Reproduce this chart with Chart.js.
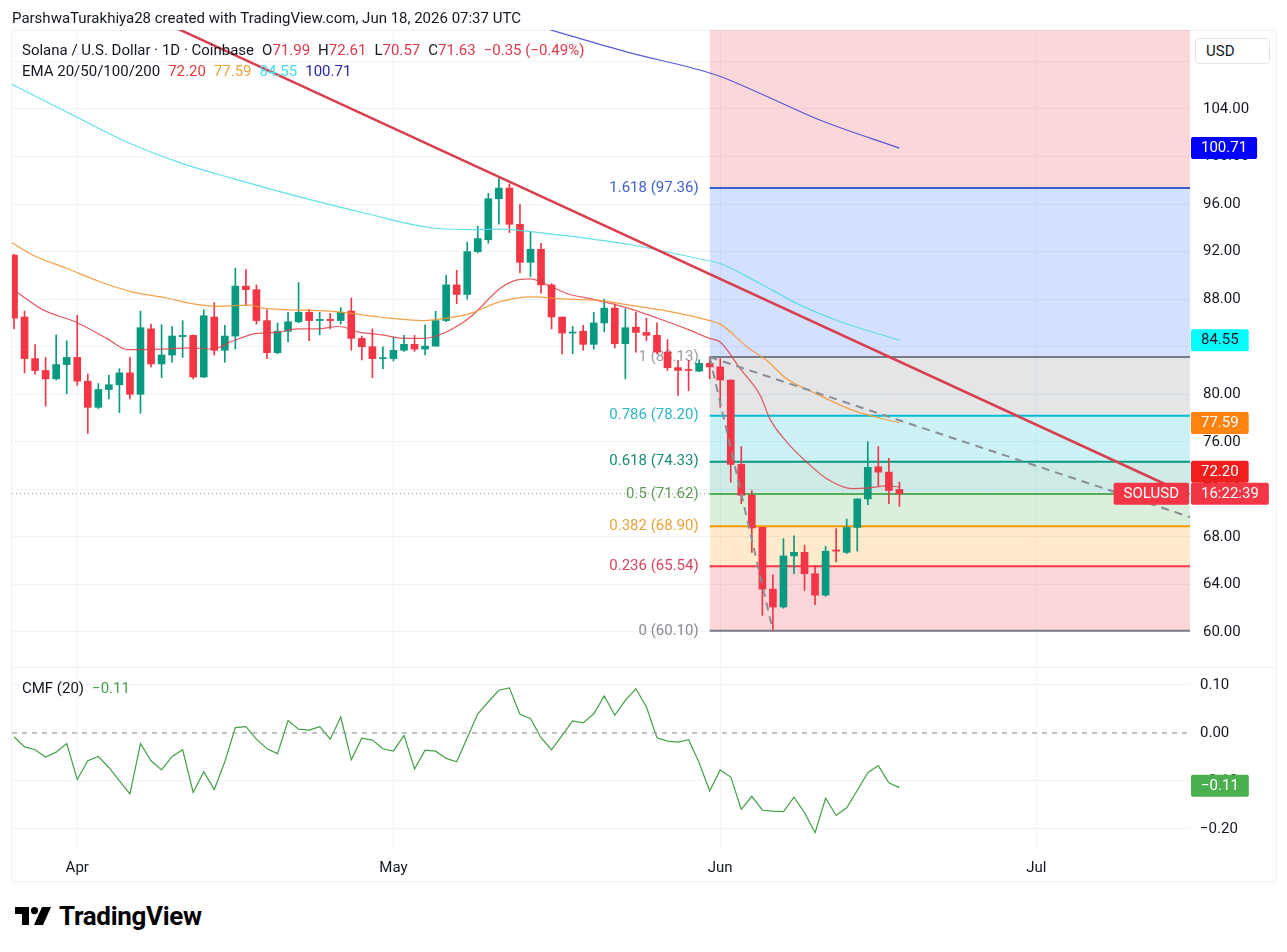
<!DOCTYPE html>
<html>
<head>
<meta charset="utf-8">
<title>Solana / U.S. Dollar 1D</title>
<script src="https://cdn.jsdelivr.net/npm/chart.js@4.4.1/dist/chart.umd.min.js"></script>
<style>
  html, body { margin: 0; padding: 0; background: #fff; }
  body { width: 1287px; height: 952px; position: relative; overflow: hidden;
         font-family: Roboto, "Liberation Sans", Arial, sans-serif; color: #131722; }
  canvas { position: absolute; left: 0; }
  #price { top: 0; }
  #cmf { top: 668px; }
  .frame { position: absolute; left: 11px; top: 30px; width: 1264px; height: 850px;
           border: 1px solid #eef0f3; border-radius: 4px; }
  .sep { position: absolute; left: 12px; top: 667px; width: 1263px; height: 1px; background: #eceef2; }
  .txt { position: absolute; white-space: nowrap; font-size: 15px; line-height: 18px; }
  #author { left: 12px; top: 8px; font-size: 15px; line-height: 20px; }
  #legend1 { left: 22px; top: 41px; }
  #legend2 { left: 22px; top: 62px; }
  #legend3 { left: 22px; top: 679px; }
  .g { margin-left: 8px; }
  .r { color: #e0394d; }
  .e20 { color: #e53935; }
  .e50 { color: #f2a23c; }
  .e100 { color: #3fe0ee; }
  .e200 { color: #2727b0; }
  .cm { color: #43a047; }
  #usd { position: absolute; left: 1195px; top: 38px; width: 75px; height: 26px; box-sizing: border-box;
         border: 1px solid #e0e3eb; border-radius: 4px; font-size: 15px; line-height: 24px;
         padding-left: 10px; background: #fff; }
  #logo { position: absolute; left: 15px; top: 901px; display: flex; align-items: center; gap: 8px;
          font-size: 26px; font-weight: 700; letter-spacing: -0.3px; color: #000; }
</style>
</head>
<body>
<div class="frame"></div>
<div class="sep"></div>
<canvas id="price" width="1287" height="670"></canvas>
<canvas id="cmf" width="1287" height="214"></canvas>

<div id="author" class="txt">ParshwaTurakhiya28 created with TradingView.com, Jun 18, 2026 07:37 UTC</div>
<div id="legend1" class="txt">Solana / U.S. Dollar · 1D · Coinbase<span class="g">O<span class="r">71.99</span></span><span class="g">H<span class="r">72.61</span></span><span class="g">L<span class="r">70.57</span></span><span class="g">C<span class="r">71.63</span></span><span class="g r">−0.35 (−0.49%)</span></div>
<div id="legend2" class="txt">EMA 20/50/100/200<span class="g e20">72.20</span><span class="g e50">77.59</span><span class="g e100">84.55</span><span class="g e200">100.71</span></div>
<div id="legend3" class="txt">CMF (20)<span class="g cm">−0.11</span></div>
<div id="usd">USD</div>
<div id="logo">
  <svg width="36" height="18" viewBox="0 0 36 18"><path d="M0 0h14v18h-7v-11h-7z" fill="#000"/><circle cx="19.5" cy="3.6" r="3.6" fill="#000"/><path d="M27 0h9l-8 18h-9z" fill="#000"/></svg>
  <span>TradingView</span>
</div>

<script>
const FONT = 'Roboto, "Liberation Sans", Arial, sans-serif';
const UP = '#089981';
const DOWN = '#f23645';
const GRID = '#f0f3fa';

// day index 0 = Mar 26, 2026 ... 84 = Jun 18, 2026
const opens = [91.7, 86.5, 83.0, 82.0, 81.3, 82.5, 83.1, 81.1, 78.9, 80.4,
  80.8, 81.8, 80.0, 85.5, 82.55, 83.3, 84.85, 84.95, 81.45, 86.5,
  83.7, 84.9, 89.1, 88.8, 86.2, 83.5, 85.3, 86.1, 86.9, 86.2,
  86.3, 86.2, 87.0, 84.7, 84.0, 83.0, 83.0, 83.7, 84.2, 83.8,
  84.05, 86.2, 89.2, 88.4, 92.0, 93.0, 96.45, 97.35, 94.3, 91.1,
  92.2, 89.2, 86.5, 85.15, 85.3, 84.2, 86.0, 87.25, 84.25, 85.65,
  85.2, 84.96, 83.55, 82.24, 82.05, 81.95, 82.6, 82.3, 81.2, 74.1,
  71.5, 68.8, 63.6, 62.1, 66.4, 66.7, 64.9, 63.1, 66.9, 66.7,
  68.8, 71.2, 73.9, 73.45, 71.99];
const highs = [91.8, 87.0, 84.17, 83.1, 85.0, 84.5, 86.65, 81.7, 80.9, 81.6,
  82.15, 83.1, 87.0, 85.9, 85.85, 85.7, 86.2, 85.0, 87.1, 87.7,
  85.8, 90.6, 90.5, 89.2, 87.1, 86.0, 86.9, 89.4, 87.15, 86.9,
  86.8, 87.3, 88.1, 84.9, 85.5, 84.0, 84.8, 84.96, 84.96, 85.85,
  86.98, 90.0, 90.43, 92.8, 94.13, 96.9, 98.3, 97.7, 95.95, 93.65,
  92.7, 89.3, 86.5, 85.7, 85.8, 86.9, 88.0, 87.6, 87.2, 86.9,
  86.4, 86.0, 84.6, 82.86, 82.86, 82.9, 83.13, 83.0, 81.2, 75.6,
  71.9, 68.8, 64.8, 67.85, 68.1, 67.3, 65.6, 67.2, 68.7, 69.5,
  71.2, 76.0, 75.6, 74.6, 72.61];
const lows = [85.5, 81.8, 81.7, 79.0, 81.2, 80.05, 80.75, 76.7, 78.8, 79.6,
  78.45, 79.6, 78.4, 82.3, 81.4, 82.7, 83.1, 81.3, 81.4, 83.3,
  82.7, 83.8, 87.5, 85.9, 83.0, 83.4, 84.4, 86.0, 84.5, 85.0,
  85.5, 85.9, 83.7, 82.9, 81.4, 82.15, 82.8, 83.6, 83.6, 83.3,
  84.05, 86.1, 87.62, 88.0, 91.9, 92.7, 94.3, 93.6, 90.2, 89.9,
  88.5, 85.5, 83.4, 83.4, 83.7, 83.8, 85.25, 83.9, 81.3, 83.55,
  84.5, 83.4, 82.0, 79.9, 80.3, 81.9, 81.3, 78.9, 72.6, 70.8,
  66.7, 61.4, 60.1, 62.0, 64.9, 63.5, 62.3, 63.0, 65.9, 66.6,
  66.8, 70.7, 72.3, 70.8, 70.57];
const closes = [86.4, 83.0, 82.0, 81.3, 82.5, 83.1, 81.1, 78.9, 80.4, 80.8,
  81.8, 80.0, 85.6, 82.55, 83.3, 84.9, 84.95, 81.45, 86.6, 83.7,
  84.9, 89.1, 88.8, 86.2, 83.5, 85.3, 86.1, 86.9, 86.2, 86.3,
  86.2, 86.9, 84.7, 84.0, 83.0, 83.05, 83.7, 84.2, 83.8, 84.05,
  86.2, 89.2, 88.4, 92.0, 93.1, 96.45, 97.35, 94.3, 91.1, 92.2,
  89.2, 86.5, 85.15, 85.2, 84.2, 86.0, 87.25, 84.25, 85.6, 85.2,
  84.96, 83.55, 82.24, 82.0, 82.0, 82.6, 82.3, 81.2, 74.1, 71.5,
  68.75, 63.6, 62.1, 66.4, 66.7, 64.9, 63.1, 66.8, 66.8, 68.8,
  71.2, 73.85, 73.45, 71.9, 71.63];

const cmf = [-0.008, -0.029, -0.035, -0.05, -0.04, -0.022, -0.097, -0.058, -0.049, -0.072,
  -0.1, -0.127, -0.022, -0.058, -0.077, -0.049, -0.035, -0.124, -0.081, -0.118,
  -0.06, 0.011, 0.013, -0.013, -0.033, -0.043, 0.026, 0.008, 0.006, 0.013,
  -0.013, 0.033, -0.056, -0.011, -0.015, -0.033, -0.038, -0.005, -0.075, -0.036,
  -0.038, -0.053, -0.06, -0.01, 0.04, 0.065, 0.089, 0.094, 0.039, 0.03,
  -0.01, -0.035, -0.005, 0.025, 0.021, 0.04, 0.077, 0.037, 0.068, 0.092,
  0.054, -0.01, -0.017, -0.019, -0.014, -0.062, -0.121, -0.077, -0.092, -0.159,
  -0.132, -0.161, -0.163, -0.164, -0.134, -0.166, -0.208, -0.136, -0.172, -0.156,
  -0.12, -0.083, -0.068, -0.104, -0.114];

// EMA curves as [day, price]
const ema20 = [[-0.2, 88.9], [2.75, 87.1], [5.8, 86.1], [8.8, 84.7], [10.8, 83.75], [13.85, 83.8],
  [16.9, 83.9], [18.8, 83.8], [20.8, 84.5], [22.9, 85.1], [24.9, 85.2], [26.85, 85.5], [28.8, 85.5],
  [30.8, 85.7], [32.9, 85.2], [34.9, 85.0], [36.9, 84.7], [38.9, 84.7], [40.9, 85.2], [43.3, 86.5],
  [46.1, 88.9], [47.3, 89.5], [49.0, 89.7], [50.6, 89.2], [52.5, 88.46], [54.9, 88.0], [56.8, 87.6],
  [58.4, 87.2], [62.0, 86.1], [64.1, 85.4], [66.0, 84.7], [67.0, 84.4], [68.9, 82.15], [70.8, 79.9],
  [71.7, 77.95], [73.3, 76.0], [75.2, 74.3], [77.1, 72.9], [79.6, 72.06], [80.9, 72.1], [82.8, 72.3], [84.0, 72.2]];
const ema50 = [[-0.2, 92.75], [1.8, 91.7], [5.0, 90.6], [8.2, 89.45], [11.3, 88.6], [14.5, 88.1],
  [17.0, 87.6], [19.3, 87.4], [22.4, 87.5], [23.6, 87.25], [30.0, 87.0], [34.7, 86.5], [38.8, 86.2],
  [41.1, 86.4], [43.3, 86.8], [46.1, 87.8], [49.2, 88.2], [52.5, 88.0], [55.6, 87.9], [58.4, 87.5],
  [62.0, 87.0], [66.0, 86.2], [67.0, 85.9], [69.8, 83.8], [71.4, 82.86], [73.3, 81.3], [75.5, 80.3],
  [79.6, 78.65], [84.0, 77.59]];
const ema100 = [[-0.2, 106.08], [5.0, 103.75], [10.7, 101.22], [16.0, 99.4], [20.8, 98.14], [27.1, 96.6],
  [33.5, 95.19], [39.75, 93.99], [43.9, 93.85], [46.1, 93.9], [50.8, 93.5], [53.7, 93.2], [58.4, 92.6],
  [65.0, 91.4], [67.0, 91.0], [70.5, 89.45], [74.6, 87.5], [78.4, 86.1], [84.0, 84.55]];
const ema200 = [[45.0, 112.2], [52.1, 110.34], [58.1, 108.8], [66.7, 106.84], [70.8, 105.3],
  [76.5, 103.05], [84.0, 100.71]];

const monthTicks = [6, 36, 67, 97];
const monthLabels = ['Apr', 'May', 'Jun', 'Jul'];
const priceTicks = [60, 64, 68, 72, 76, 80, 84, 88, 92, 96, 100, 104, 108];
const cmfTicks = [0.1, 0, -0.1, -0.2];

const fibRatios = ['0', '0.236', '0.382', '0.5', '0.618', '0.786', '1', '1.618'];
const fibPrices = [60.10, 65.54, 68.90, 71.62, 74.33, 78.20, 83.13, 97.36];
const fibStartDay = 66;   // May 31 swing high
const fibLowDay = 72;     // Jun 6 swing low

const trendLine = [[15, 110.97], [109.7, 72.24]];
const projection = [[66, 83.13], [111.57, 69.67]];
const lastPrice = 71.63;
const cmfLast = -0.11;

const X_MIN = -0.19, X_MAX = 111.57;
const P_MIN = 57.055, P_MAX = 110.646;
const C_MIN = -0.2397, C_MAX = 0.1353;

Chart.defaults.font.family = FONT;
Chart.defaults.color = '#131722';

const days = closes.map((c, i) => i);
const candleColors = days.map(i => closes[i] >= opens[i] ? UP : DOWN);
const pts = arr => arr.map(([x, y]) => ({ x, y }));

const fibLineColors = ['#787b86', '#f23645', '#ff9800', '#4caf50', '#089981', '#00bcd4', '#787b86', '#3a5fcd'];
const fibBandColors = [null, 'rgba(242,54,69,0.2)', 'rgba(255,152,0,0.2)', 'rgba(76,175,80,0.2)',
  'rgba(8,153,129,0.2)', 'rgba(0,188,212,0.2)', 'rgba(120,123,134,0.2)', 'rgba(41,98,255,0.2)'];
const fibLabelColors = ['#868993', '#d6455f', '#e9a23b', '#5f9c55', '#1b8a78', '#2fb5c8', '#9a9ca5', '#4262c4'];

function roundRect(ctx, x, y, w, h, r) {
  ctx.beginPath();
  if (ctx.roundRect) ctx.roundRect(x, y, w, h, r); else ctx.rect(x, y, w, h);
  ctx.fill();
}

function drawTag(ctx, x, yc, text, bg, fg, alignRight) {
  ctx.font = '15px ' + FONT;
  const w = ctx.measureText(text).width + 20;
  const left = alignRight ? x - w : x;
  ctx.fillStyle = bg;
  roundRect(ctx, left, yc - 11, w, 22, 2);
  ctx.fillStyle = fg;
  ctx.textAlign = 'left';
  ctx.textBaseline = 'middle';
  ctx.fillText(text, left + 10, yc + 0.5);
}

// keep the chart area exactly where the reference has it
const noPad = s => { s.paddingTop = 0; s.paddingBottom = 0; s.paddingLeft = 0; s.paddingRight = 0; };

const fibLabels = {
  id: 'fibLabels',
  beforeDatasetsDraw(chart) {
    const { ctx, scales: { x, y } } = chart;
    const right = x.getPixelForValue(fibStartDay) - 11;
    ctx.save();
    ctx.font = '15px ' + FONT;
    ctx.textAlign = 'right';
    ctx.textBaseline = 'middle';
    fibRatios.forEach((r, k) => {
      ctx.fillStyle = fibLabelColors[k];
      ctx.fillText(r + ' (' + fibPrices[k].toFixed(2) + ')', right, y.getPixelForValue(fibPrices[k]));
    });
    ctx.restore();
  }
};

const priceTags = {
  id: 'priceTags',
  afterDraw(chart) {
    const { ctx, chartArea, scales: { y } } = chart;
    const x0 = chartArea.right + 1;
    ctx.save();
    drawTag(ctx, x0, y.getPixelForValue(100.71), '100.71', '#0000ff', '#fff');
    drawTag(ctx, x0, y.getPixelForValue(84.55), '84.55', '#00ffff', '#131722');
    drawTag(ctx, x0, y.getPixelForValue(77.59), '77.59', '#ff8310', '#fff');
    const yLast = y.getPixelForValue(lastPrice);
    drawTag(ctx, x0, Math.min(y.getPixelForValue(72.20), yLast - 22), '72.20', '#f21d1d', '#fff');
    drawTag(ctx, chartArea.right - 1, yLast, 'SOLUSD', '#f23645', '#fff', true);
    drawTag(ctx, x0, yLast, '16:22:39', '#f23645', '#fff');
    ctx.restore();
  }
};

const cmfTag = {
  id: 'cmfTag',
  afterDraw(chart) {
    const { ctx, chartArea, scales: { y } } = chart;
    ctx.save();
    drawTag(ctx, chartArea.right + 1, y.getPixelForValue(cmfLast), '−0.11', '#4caf50', '#fff');
    ctx.restore();
  }
};

// fib retracement bands, each filled down to the level below it
const fibSets = fibPrices.map((p, k) => ({
  type: 'line', order: 10,
  data: [{ x: fibStartDay, y: p }, { x: X_MAX, y: p }],
  borderColor: fibLineColors[k], borderWidth: 2, pointRadius: 0,
  fill: k === 0 ? false : '-1', backgroundColor: fibBandColors[k] || 'transparent'
}));
fibSets.push({
  type: 'line', order: 10,
  data: [{ x: fibStartDay, y: fibPrices[7] }, { x: X_MAX, y: fibPrices[7] }],
  borderColor: 'transparent', borderWidth: 1, pointRadius: 0,
  fill: 'end', backgroundColor: 'rgba(242,54,69,0.2)'
});

const lineSet = (data, color, width, order, dash) => ({
  type: 'line', order, data: pts(data), borderColor: color, borderWidth: width,
  pointRadius: 0, borderDash: dash || [], cubicInterpolationMode: 'monotone', fill: false
});

new Chart(document.getElementById('price'), {
  type: 'bar',
  data: {
    datasets: [
      ...fibSets,
      lineSet([[X_MIN, lastPrice], [X_MAX, lastPrice]], '#8f929b', 1, 9, [1, 3]),
      { type: 'bar', order: 4, data: days.map(i => ({ x: i, y: [lows[i], highs[i]] })),
        backgroundColor: candleColors, barThickness: 1, grouped: false },
      { type: 'bar', order: 3, data: days.map(i => ({ x: i, y: [opens[i], closes[i]] })),
        backgroundColor: candleColors, barThickness: 7, minBarLength: 1, grouped: false },
      lineSet(ema200, 'rgba(70,70,215,0.9)', 1.2, 2),
      lineSet(ema100, 'rgba(80,222,228,0.9)', 1.2, 2),
      lineSet(ema50, 'rgba(244,150,50,0.9)', 1.2, 2),
      lineSet(ema20, 'rgba(226,60,70,0.85)', 1.2, 2),
      lineSet(projection, '#8a8d96', 2, 1, [8, 6]),
      lineSet([[fibStartDay, fibPrices[6]], [fibLowDay, fibPrices[0]]], '#8a8d96', 2, 1, [8, 6]),
      lineSet(trendLine, '#d8404f', 2.5, 1)
    ]
  },
  options: {
    responsive: false,
    animation: false,
    events: [],
    layout: { padding: { left: 12, right: 0, top: 30, bottom: 3 } },
    plugins: { legend: { display: false }, tooltip: { enabled: false } },
    scales: {
      x: {
        type: 'linear', min: X_MIN, max: X_MAX, offset: false,
        afterBuildTicks: s => { s.ticks = monthTicks.map(v => ({ value: v })); },
        afterFit: s => { s.height = 0; noPad(s); },
        ticks: { display: false },
        grid: { color: GRID, drawTicks: false, offset: false },
        border: { display: false }
      },
      y: {
        type: 'linear', position: 'right', min: P_MIN, max: P_MAX,
        afterBuildTicks: s => { s.ticks = priceTicks.map(v => ({ value: v })); },
        afterFit: s => { s.width = 97; noPad(s); },
        ticks: {
          autoSkip: false, padding: 13, font: { size: 15 }, color: '#131722',
          callback: v => v === 108 ? '' : v.toFixed(2)
        },
        grid: { color: GRID, drawTicks: false },
        border: { display: false }
      }
    }
  },
  plugins: [fibLabels, priceTags]
});

new Chart(document.getElementById('cmf'), {
  type: 'line',
  data: {
    datasets: [
      { data: [{ x: X_MIN, y: 0 }, { x: X_MAX, y: 0 }], borderColor: '#9598a1', borderWidth: 1.2,
        borderDash: [5, 5], pointRadius: 0 },
      { data: cmf.map((v, i) => ({ x: i, y: v })), borderColor: '#43a047', borderWidth: 1.2,
        pointRadius: 0, tension: 0 }
    ]
  },
  options: {
    responsive: false,
    animation: false,
    events: [],
    layout: { padding: { left: 12, right: 0, top: 0, bottom: 0 } },
    plugins: { legend: { display: false }, tooltip: { enabled: false } },
    scales: {
      x: {
        type: 'linear', min: X_MIN, max: X_MAX,
        afterBuildTicks: s => { s.ticks = monthTicks.map(v => ({ value: v })); },
        afterFit: s => { s.height = 34; noPad(s); },
        ticks: {
          autoSkip: false, maxRotation: 0, padding: 11, font: { size: 15 }, color: '#131722',
          callback: v => monthLabels[monthTicks.indexOf(v)]
        },
        grid: { color: GRID, drawTicks: false },
        border: { display: false }
      },
      y: {
        type: 'linear', position: 'right', min: C_MIN, max: C_MAX,
        afterBuildTicks: s => { s.ticks = cmfTicks.map(v => ({ value: v })); },
        afterFit: s => { s.width = 97; noPad(s); },
        ticks: {
          autoSkip: false, padding: 10, font: { size: 15 }, color: '#131722',
          callback: v => (v < 0 ? '−' : '') + Math.abs(v).toFixed(2)
        },
        grid: { color: c => (c.tick && c.tick.value === 0) ? 'transparent' : GRID, drawTicks: false },
        border: { display: false }
      }
    }
  },
  plugins: [cmfTag]
});
</script>
</body>
</html>
